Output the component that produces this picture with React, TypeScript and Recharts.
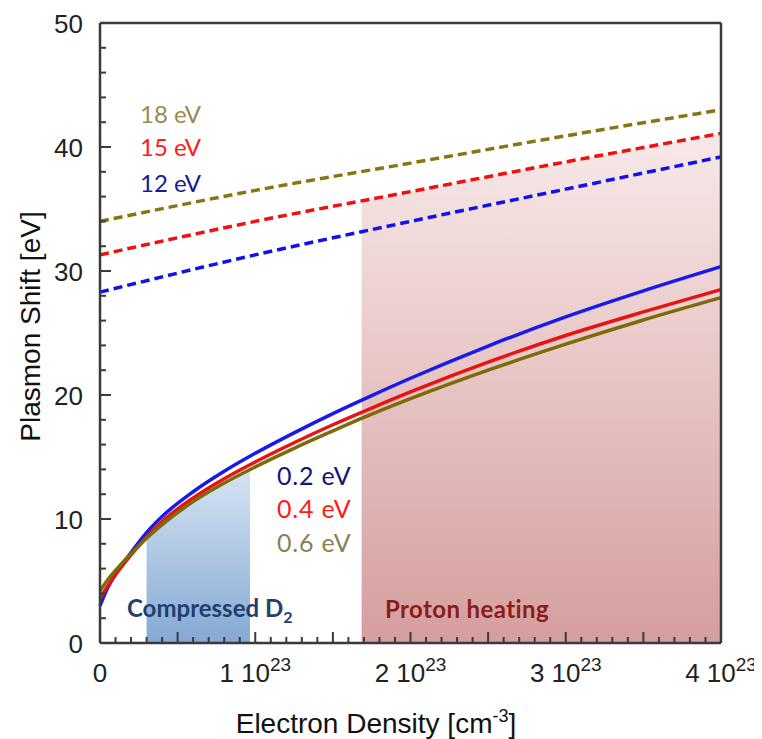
import React from "react";
import { ComposedChart, Line, Area, XAxis, YAxis } from "recharts";

// densities in units of 1e23 cm^-3, shifts in eV
const densityFine = [0, 0.05, 0.1, 0.2, 0.3, 0.4, 0.6, 0.8, 1, 1.25, 1.5, 1.75, 2, 2.5, 3, 3.5, 4];
const shiftT02 = [3.0, 4.45, 5.55, 7.3, 8.9, 10.2, 12.2, 13.85, 15.3, 16.95, 18.5, 19.95, 21.35, 23.95, 26.3, 28.4, 30.35];
const shiftT04 = [3.6, 4.6, 5.5, 7.1, 8.55, 9.8, 11.7, 13.25, 14.6, 16.15, 17.6, 18.95, 20.25, 22.65, 24.8, 26.7, 28.5];
const shiftT06 = [4.2, 5.1, 5.85, 7.2, 8.45, 9.55, 11.4, 12.9, 14.2, 15.7, 17.1, 18.45, 19.7, 22.0, 24.1, 26.05, 27.85];

const densityCoarse = [0, 1, 2, 3, 4];
const shiftT12 = [28.3, 31.3, 34.0, 36.6, 39.2];
const shiftT15 = [31.3, 34.0, 36.4, 38.8, 41.1];
const shiftT18 = [34.0, 36.5, 38.7, 40.9, 43.0];

// shaded regions: compressed D2 (under the 0.6 eV curve), proton heating (under the 15 eV curve)
const compressedX = [0.3, 0.4, 0.6, 0.8, 0.966];
const compressedTop = [8.45, 9.55, 11.4, 12.9, 13.98];
const protonX = [1.685, 2, 3, 4];
const protonTop = [35.6, 36.4, 38.8, 41.1];

const xTicks = Array.from({ length: 41 }, (_, i) => i / 10);
const yTicks = Array.from({ length: 26 }, (_, i) => i * 2);

const rows = (xs: number[], ys: number[]) => xs.map((x, i) => ({ x, y: ys[i] }));

const W = 754;
const H = 731;
const MARGIN = { top: 0, right: 0, bottom: 0, left: 0 };
const FRAME = "#3a3a3a";
const AXIS_FONT = "'Liberation Sans', Arial, sans-serif";
const NOTE_FONT = "Lato, 'Open Sans', sans-serif";

const isInt = (v: number) => Math.abs(v - Math.round(v)) < 1e-6;
const isHalf = (v: number) => Math.abs(v * 2 - Math.round(v * 2)) < 1e-6;

function BottomTick(props: any) {
  const { x, y, payload } = props;
  const v = payload.value;
  const len = isHalf(v) ? 11 : 6;
  const n = Math.round(v);
  return (
    <g>
      <line x1={x} x2={x} y1={y} y2={y - len} stroke={FRAME} strokeWidth={2} />
      {isInt(v) && (
        <text x={x} y={y + 39} textAnchor="middle" fontSize={26} fontFamily={AXIS_FONT} fill="#222">
          {n === 0 ? (
            "0"
          ) : (
            <>
              {`${n} 10`}
              <tspan fontSize={19} dy={-11}>23</tspan>
            </>
          )}
        </text>
      )}
    </g>
  );
}

function TopTick(props: any) {
  const { x, y, payload } = props;
  const len = isHalf(payload.value) ? 11 : 6;
  return <line x1={x} x2={x} y1={y} y2={y + len} stroke={FRAME} strokeWidth={2} />;
}

function LeftTick(props: any) {
  const { x, y, payload } = props;
  const v = payload.value;
  const major = v % 10 === 0;
  return (
    <g>
      <line x1={x} x2={x + (major ? 11 : 6)} y1={y} y2={y} stroke={FRAME} strokeWidth={2} />
      {major && (
        <text x={x - 17} y={y + 9.5} textAnchor="end" fontSize={26} fontFamily={AXIS_FONT} fill="#222">
          {v}
        </text>
      )}
    </g>
  );
}

function RightTick(props: any) {
  const { x, y, payload } = props;
  const len = payload.value % 10 === 0 ? 10 : 7;
  return <line x1={x} x2={x - len} y1={y} y2={y} stroke={FRAME} strokeWidth={2} />;
}

const frameLine = { stroke: FRAME, strokeWidth: 2.5 };

// same axis geometry in both layers; `visible` controls drawing
function axes(visible: boolean) {
  const common = {
    type: "number" as const,
    interval: 0 as const,
    tickLine: false,
    tickSize: 0,
    tickMargin: 0,
    axisLine: visible ? frameLine : false,
  };
  return [
    <XAxis key="b" xAxisId="b" orientation="bottom" dataKey="x" domain={[0, 4]} ticks={xTicks} height={96}
      {...common} tick={visible ? <BottomTick /> : false} />,
    <XAxis key="t" xAxisId="t" orientation="top" dataKey="x" domain={[0, 4]} ticks={xTicks} height={15}
      {...common} tick={visible ? <TopTick /> : false} />,
    <YAxis key="l" yAxisId="l" orientation="left" domain={[0, 50]} ticks={yTicks} width={92}
      {...common} tick={visible ? <LeftTick /> : false} />,
    <YAxis key="r" yAxisId="r" orientation="right" domain={[0, 50]} ticks={yTicks} width={41}
      {...common} tick={visible ? <RightTick /> : false} />,
  ];
}

const lineProps = {
  xAxisId: "b",
  yAxisId: "l",
  dataKey: "y",
  type: "monotone" as const,
  strokeWidth: 3.5,
  dot: false,
  activeDot: false,
  isAnimationActive: false,
};

export default function App() {
  return (
    <div style={{ position: "relative", width: W, height: H }}>
      {/* shaded regions underneath */}
      <div style={{ position: "absolute", left: 0, top: 0 }}>
        <ComposedChart width={W} height={H} margin={MARGIN}>
          <defs>
            <linearGradient id="protonGrad" x1="0" y1="0" x2="0" y2="1">
              <stop offset="0%" stopColor="#f8e9e9" />
              <stop offset="100%" stopColor="#d59e9e" />
            </linearGradient>
            <linearGradient id="compressedGrad" x1="0" y1="0" x2="0" y2="1">
              <stop offset="0%" stopColor="#d6e4f2" />
              <stop offset="100%" stopColor="#84a9d4" />
            </linearGradient>
          </defs>
          {axes(false)}
          <Area xAxisId="b" yAxisId="l" data={rows(protonX, protonTop)} dataKey="y" type="monotone"
            stroke="none" fill="url(#protonGrad)" fillOpacity={1} isAnimationActive={false} activeDot={false} />
          <Area xAxisId="b" yAxisId="l" data={rows(compressedX, compressedTop)} dataKey="y" type="monotone"
            stroke="none" fill="url(#compressedGrad)" fillOpacity={1} isAnimationActive={false} activeDot={false} />
        </ComposedChart>
      </div>

      {/* frame, curves and text */}
      <div style={{ position: "absolute", left: 0, top: 0 }}>
        <ComposedChart width={W} height={H} margin={MARGIN}>
          {axes(true)}

          <Line {...lineProps} data={rows(densityCoarse, shiftT12)} stroke="#1010f0" strokeDasharray="9 5" />
          <Line {...lineProps} data={rows(densityCoarse, shiftT15)} stroke="#f01010" strokeDasharray="9 5" />
          <Line {...lineProps} data={rows(densityCoarse, shiftT18)} stroke="#8a7410" strokeDasharray="9 5" />

          <Line {...lineProps} data={rows(densityFine, shiftT02)} stroke="#1a1ae8" />
          <Line {...lineProps} data={rows(densityFine, shiftT04)} stroke="#e81414" />
          <Line {...lineProps} data={rows(densityFine, shiftT06)} stroke="#7d6a08" />

          <g fontFamily={NOTE_FONT} fontSize={24}>
            <text x={132} y={115} fill="#9a8a52">18 eV</text>
            <text x={132} y={148} fill="#ff1a1a">15 eV</text>
            <text x={132} y={184} fill="#1a1a96">12 eV</text>
          </g>
          <g fontFamily={NOTE_FONT} fontSize={25} letterSpacing={0.8}>
            <text x={269} y={477} fill="#14147a">0.2 eV</text>
            <text x={269} y={510} fill="#ff1a1a">0.4 eV</text>
            <text x={269} y={544} fill="#8c7f55">0.6 eV</text>
          </g>
          <g fontFamily={NOTE_FONT} fontSize={24} fontWeight="bold">
            <text x={119} y={609} fill="#213f6e">
              Compressed D<tspan fontSize={16} dy={6}>2</tspan>
            </text>
            <text x={377} y={610} fill="#8e1b1b" letterSpacing={0.4}>Proton heating</text>
          </g>

          <text x={368} y={725} textAnchor="middle" fontSize={28} fontFamily={AXIS_FONT} fill="#111">
            Electron Density [cm<tspan fontSize={18} dy={-11}>-3</tspan>
            <tspan dy={11}>]</tspan>
          </text>
          <text x={32} y={318.5} transform="rotate(-90 32 318.5)" textAnchor="middle" fontSize={28} fontFamily={AXIS_FONT} fill="#111">
            Plasmon Shift [eV]
          </text>
        </ComposedChart>
      </div>
    </div>
  );
}
